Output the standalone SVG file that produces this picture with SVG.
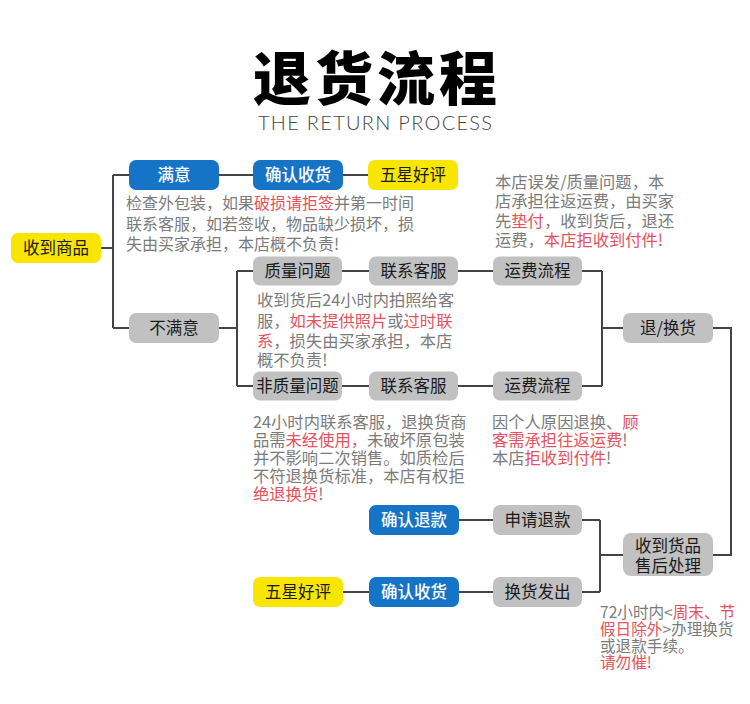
<svg xmlns="http://www.w3.org/2000/svg" width="750" height="704" viewBox="0 0 750 704">
<style>
.bg{fill:#ffffff}
.title{font-family:"Noto Sans CJK SC","Noto Sans",sans-serif;font-weight:900;font-size:58px;fill:#000;letter-spacing:4px}
.sub{font-family:"Lato","Liberation Sans",sans-serif;font-weight:300;font-size:20px;fill:#444}
.nb rect{fill:#1674c6}
.ny rect{fill:#f8e600}
.ng rect{fill:#c1c1c1}
.nt{font-family:"Noto Sans CJK SC","Noto Sans",sans-serif;font-size:16.5px;text-anchor:middle}
.nb .nt{fill:#ffffff;font-weight:500}
.ny .nt,.ng .nt{fill:#1a1a1a}
.desc{font-family:"Noto Sans CJK SC","Noto Sans",sans-serif;font-size:16.3px;fill:#7b7b7b}
.r{fill:#e5525c}
.conn path{fill:none;stroke:#444;stroke-width:2}
</style>
<rect class="bg" x="0" y="0" width="750" height="704"/>
<text class="title" x="377" y="100" text-anchor="middle">退货流程</text>
<text class="sub" x="258" y="130" textLength="234" lengthAdjust="spacing">THE RETURN PROCESS</text>

<g class="conn">
<path d="M101,248 H113 M113,175 V328 M113,175 H129 M113,328 H129"/>
<path d="M219,175 H253 M343,175 H368"/>
<path d="M219,328 H237 M237,271 V386 M237,271 H253 M237,386 H253"/>
<path d="M342,271 H369 M458,271 H493 M582,271 H602"/>
<path d="M342,386 H369 M458,386 H493 M582,386 H602"/>
<path d="M602,271 V386 M602,328 H623"/>
<path d="M713,328 H731 V555 H713"/>
<path d="M623,555 H600 M600,520 V592 M582,520 H600 M582,592 H600"/>
<path d="M459,520 H493 M459,592 H493 M343,592 H369"/>
</g>

<g id="n-receive" class="ny"><rect x="11" y="233" width="90" height="30" rx="7"/><text class="nt" x="56" y="254">收到商品</text></g>
<g id="n-satisfied" class="nb"><rect x="129" y="160" width="90" height="30" rx="7"/><text class="nt" x="174" y="181">满意</text></g>
<g id="n-confirm1" class="nb"><rect x="253" y="160" width="90" height="30" rx="7"/><text class="nt" x="298" y="181">确认收货</text></g>
<g id="n-five1" class="ny"><rect x="368" y="160" width="90" height="30" rx="7"/><text class="nt" x="413" y="181">五星好评</text></g>
<g id="n-unsatisfied" class="ng"><rect x="129" y="313" width="90" height="30" rx="7"/><text class="nt" x="174" y="334">不满意</text></g>
<g id="n-quality" class="ng"><rect x="253" y="256.5" width="89" height="29" rx="7"/><text class="nt" x="297.5" y="277">质量问题</text></g>
<g id="n-cs1" class="ng"><rect x="369" y="256.5" width="89" height="29" rx="7"/><text class="nt" x="413.5" y="277">联系客服</text></g>
<g id="n-ship1" class="ng"><rect x="493" y="256.5" width="89" height="29" rx="7"/><text class="nt" x="537.5" y="277">运费流程</text></g>
<g id="n-nonquality" class="ng"><rect x="253" y="371.5" width="89" height="29" rx="7"/><text class="nt" x="297.5" y="392">非质量问题</text></g>
<g id="n-cs2" class="ng"><rect x="369" y="371.5" width="89" height="29" rx="7"/><text class="nt" x="413.5" y="392">联系客服</text></g>
<g id="n-ship2" class="ng"><rect x="493" y="371.5" width="89" height="29" rx="7"/><text class="nt" x="537.5" y="392">运费流程</text></g>
<g id="n-return" class="ng"><rect x="623" y="313" width="90" height="30" rx="7"/><text class="nt" x="668" y="334">退/换货</text></g>
<g id="n-after" class="ng"><rect x="623" y="533" width="90" height="43" rx="8"/><text class="nt" x="668" y="552">收到货品<tspan x="668" y="572">售后处理</tspan></text></g>
<g id="n-apply" class="ng"><rect x="493" y="505" width="89" height="30" rx="7"/><text class="nt" x="537.5" y="526">申请退款</text></g>
<g id="n-refund" class="nb"><rect x="369" y="505" width="90" height="30" rx="7"/><text class="nt" x="414" y="526">确认退款</text></g>
<g id="n-exchange" class="ng"><rect x="493" y="577" width="89" height="30" rx="7"/><text class="nt" x="537.5" y="598">换货发出</text></g>
<g id="n-confirm2" class="nb"><rect x="369" y="577" width="90" height="30" rx="7"/><text class="nt" x="414" y="598">确认收货</text></g>
<g id="n-five2" class="ny"><rect x="253" y="577" width="90" height="30" rx="7"/><text class="nt" x="298" y="598">五星好评</text></g>

<text id="t-satisfied" class="desc" style="font-size:16px"><tspan x="126" y="209">检查外包装，如果<tspan class="r">破损请拒签</tspan>并第一时间</tspan><tspan x="126" y="230">联系客服，如若签收，物品缺少损坏，损</tspan><tspan x="126" y="250">失由买家承担，本店概不负责!</tspan></text>

<text id="t-shop" class="desc"><tspan x="495" y="188">本店误发/质量问题，本</tspan><tspan x="495" y="207">店承担往返运费，由买家</tspan><tspan x="495" y="227">先<tspan class="r">垫付</tspan>，收到货后，退还</tspan><tspan x="495" y="246">运费，<tspan class="r">本店拒收到付件!</tspan></tspan></text>

<text id="t-quality" class="desc"><tspan x="257" y="306">收到货后24小时内拍照给客</tspan><tspan x="257" y="327">服，<tspan class="r">如未提供照片</tspan>或<tspan class="r">过时联</tspan></tspan><tspan x="257" y="347"><tspan class="r">系</tspan>，损失由买家承担，本店</tspan><tspan x="257" y="366">概不负责!</tspan></text>

<text id="t-nonquality" class="desc"><tspan x="253" y="428">24小时内联系客服，退换货商</tspan><tspan x="253" y="446">品需<tspan class="r">未经使用，</tspan>未破坏原包装</tspan><tspan x="253" y="464">并不影响二次销售。如质检后</tspan><tspan x="253" y="482">不符退换货标准，本店有权拒</tspan><tspan x="253" y="500"><tspan class="r">绝退换货</tspan>!</tspan></text>

<text id="t-personal" class="desc"><tspan x="492" y="428">因个人原因退换、<tspan class="r">顾</tspan></tspan><tspan x="492" y="446"><tspan class="r">客需承担往返运费</tspan>!</tspan><tspan x="492" y="464">本店<tspan class="r">拒收到付件</tspan>!</tspan></text>

<text id="t-72h" class="desc" style="font-size:15.6px"><tspan x="600" y="618">72小时内&lt;<tspan class="r">周末、节</tspan></tspan><tspan x="600" y="635"><tspan class="r">假日除外</tspan>&gt;办理换货</tspan><tspan x="600" y="652">或退款手续。</tspan><tspan x="600" y="668" class="r">请勿催!</tspan></text>
</svg>
